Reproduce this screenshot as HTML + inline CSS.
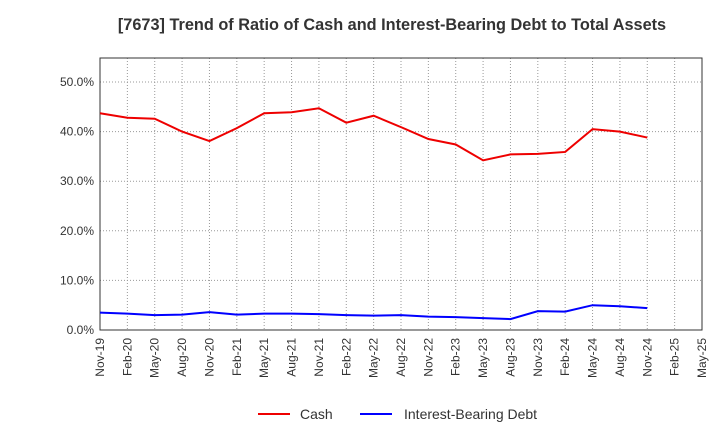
<!DOCTYPE html>
<html><head><meta charset="utf-8"><style>
body{margin:0;background:#fff;font-family:"Liberation Sans",sans-serif}
</style></head><body>
<svg width="720" height="440" xmlns="http://www.w3.org/2000/svg">
<text x="392" y="30" text-anchor="middle" font-size="16.3" font-weight="bold" fill="#333">[7673]  Trend of Ratio of Cash and Interest-Bearing Debt to Total Assets</text>
<g id="grid"></g><g id="axes"></g><g id="series"></g>
<g>
<line x1="258" y1="414" x2="290" y2="414" stroke="#e00" stroke-width="2"/>
<text x="300" y="419" font-size="14" fill="#333">Cash</text>
<line x1="360" y1="414" x2="392" y2="414" stroke="#00f" stroke-width="2"/>
<text x="404" y="419" font-size="14" fill="#333">Interest-Bearing Debt</text>
</g>
</svg>
<script>
const tickLabels=["Nov-19","Feb-20","May-20","Aug-20","Nov-20","Feb-21","May-21","Aug-21","Nov-21","Feb-22","May-22","Aug-22","Nov-22","Feb-23","May-23","Aug-23","Nov-23","Feb-24","May-24","Aug-24","Nov-24","Feb-25","May-25"];
const yTicks=[0,10,20,30,40,50];
const cash=[43.7,42.8,42.6,40.0,38.1,40.7,43.7,43.9,44.7,41.8,43.2,40.9,38.5,37.4,34.2,35.4,35.5,35.9,40.5,40.0,38.8];
const debt=[3.5,3.3,3.0,3.1,3.6,3.1,3.3,3.3,3.2,3.0,2.9,3.0,2.7,2.6,2.4,2.2,3.8,3.7,5.0,4.8,4.4];
const L=100,R=702,T=58,B=330;
const x=i=>L+i*(R-L)/(tickLabels.length-1);
const y=v=>B-v*(B-82)/50;
const NS="http://www.w3.org/2000/svg";
function mk(t,a,p){const e=document.createElementNS(NS,t);for(const k in a)e.setAttribute(k,a[k]);p.appendChild(e);return e;}
const g=document.getElementById('grid'),ax=document.getElementById('axes'),s=document.getElementById('series');
tickLabels.forEach((lab,i)=>{
 const l=mk('line',{x1:x(i),x2:x(i),y1:T,y2:B,stroke:'#999','stroke-dasharray':'1,2'},g);
 
 
 const t=mk('text',{x:0,y:0,'font-size':12,fill:'#333','text-anchor':'end',transform:`translate(${x(i)+4},${B+8}) rotate(-90)`},ax);
 t.textContent=lab;
 
 
});
yTicks.forEach(v=>{
 const l=mk('line',{x1:L,x2:R,y1:y(v),y2:y(v),stroke:'#999','stroke-dasharray':'1,2'},g);
 
 
 const t=mk('text',{x:L-6,y:y(v)+4,'font-size':12,fill:'#333','text-anchor':'end'},ax);
 t.textContent=v.toFixed(1)+'%';
 
 
});
const f=mk('rect',{x:L,y:T,width:R-L,height:B-T,fill:'none',stroke:'#333'},ax);


const p1=mk('polyline',{points:cash.map((v,i)=>x(i)+','+y(v)).join(' '),fill:'none',stroke:'#e00','stroke-width':2},s);


const p2=mk('polyline',{points:debt.map((v,i)=>x(i)+','+y(v)).join(' '),fill:'none',stroke:'#00f','stroke-width':2},s);


</script>
</body></html>
